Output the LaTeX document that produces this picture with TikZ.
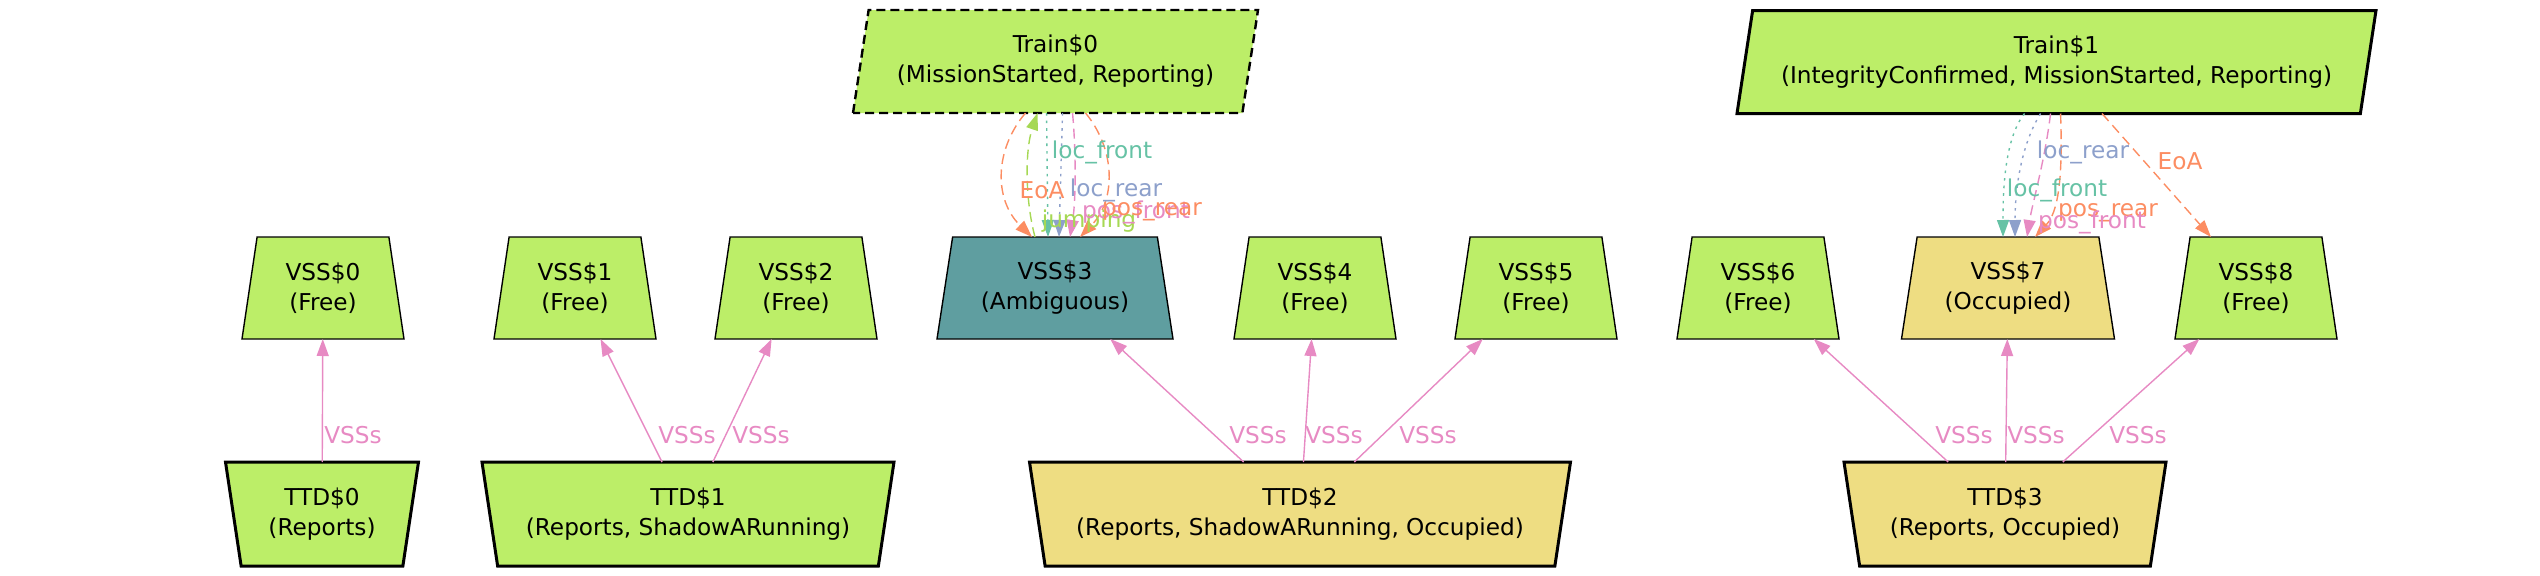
\documentclass[tikz,border=0pt]{standalone}
\usepackage{fontspec}
\setmainfont{DejaVu Sans}
\usetikzlibrary{shapes.geometric,arrows.meta,calc}
\definecolor{fgreen}{HTML}{BCEE68}
\definecolor{fyellow}{HTML}{EEDD82}
\definecolor{fteal}{HTML}{5F9EA0}
\definecolor{cteal}{HTML}{66C2A5}
\definecolor{corange}{HTML}{FC8D62}
\definecolor{cblue}{HTML}{8DA0CB}
\definecolor{cpink}{HTML}{E78AC3}
\definecolor{cgreen}{HTML}{A6D854}
\begin{document}
\begin{tikzpicture}[x=0.5pt,y=-0.5pt,
  every node/.style={font=\fontsize{11.6}{15}\selectfont, inner sep=0pt, outer sep=0pt},
  vssbox/.style={draw=black, line width=0.7pt, trapezium, trapezium stretches body,
    trapezium left angle=73.4, trapezium right angle=73.4, minimum height=51pt, align=center},
  ttdbox/.style={draw=black, line width=1.5pt, trapezium, trapezium stretches body,
    trapezium left angle=106.6, trapezium right angle=106.6, minimum height=52pt, align=center},
  trainbox/.style={draw=black, trapezium, trapezium stretches body, fill=fgreen,
    trapezium left angle=73.4, trapezium right angle=106.6, minimum height=51.5pt, align=center},
  edgebase/.style={line width=0.7pt, -{Triangle[length=8.5pt,width=6pt]}},
  vssedge/.style={edgebase, draw=cpink},
  vsslbl/.style={text=cpink},
  dashedge/.style={edgebase, dash pattern=on 5pt off 2.8pt},
  dotedge/.style={edgebase, dash pattern=on 1.3pt off 2.5pt},
  tealedge/.style={dotedge, draw=cteal},
  blueedge/.style={dotedge, draw=cblue},
  pinkedge/.style={dashedge, draw=cpink},
  orangeedge/.style={dashedge, draw=corange},
  greenedge/.style={dashedge, draw=cgreen},
]
\useasboundingbox (0,0) rectangle (2540,575);

% Train nodes
\node[trainbox, line width=1.2pt, dash pattern=on 4.5pt off 2.5pt, minimum width=202.5pt] (train0) at (1055.5,61.5)
  {Train\$0\\(MissionStarted, Reporting)};
\node[trainbox, line width=1.5pt, minimum width=319.5pt] (train1) at (2056.5,62)
  {Train\$1\\(IntegrityConfirmed, MissionStarted, Reporting)};

% VSS nodes
\node[vssbox, fill=fgreen, minimum width=81pt] (vss0) at (323,288) {VSS\$0\\(Free)};
\node[vssbox, fill=fgreen, minimum width=81pt] (vss1) at (575,288) {VSS\$1\\(Free)};
\node[vssbox, fill=fgreen, minimum width=81pt] (vss2) at (796,288) {VSS\$2\\(Free)};
\node[vssbox, fill=fteal, minimum width=118pt] (vss3) at (1055,288) {VSS\$3\\(Ambiguous)};
\node[vssbox, fill=fgreen, minimum width=81pt] (vss4) at (1315,288) {VSS\$4\\(Free)};
\node[vssbox, fill=fgreen, minimum width=81pt] (vss5) at (1536,288) {VSS\$5\\(Free)};
\node[vssbox, fill=fgreen, minimum width=81pt] (vss6) at (1758,288) {VSS\$6\\(Free)};
\node[vssbox, fill=fyellow, minimum width=106.5pt] (vss7) at (2008,288) {VSS\$7\\(Occupied)};
\node[vssbox, fill=fgreen, minimum width=81pt] (vss8) at (2256,288) {VSS\$8\\(Free)};

% TTD nodes
\node[ttdbox, fill=fgreen, minimum width=96.5pt] (ttd0) at (322,514) {TTD\$0\\(Reports)};
\node[ttdbox, fill=fgreen, minimum width=206pt] (ttd1) at (688,514) {TTD\$1\\(Reports, ShadowARunning)};
\node[ttdbox, fill=fyellow, minimum width=270.5pt] (ttd2) at (1300,514) {TTD\$2\\(Reports, ShadowARunning, Occupied)};
\node[ttdbox, fill=fyellow, minimum width=161pt] (ttd3) at (2005,514) {TTD\$3\\(Reports, Occupied)};

% VSSs edges
\draw[vssedge] (ttd0) -- (vss0) node[vsslbl] at (353,435) {VSSs};
\draw[vssedge] (ttd1) -- (vss1) node[vsslbl] at (687,435) {VSSs};
\draw[vssedge] (ttd1) -- (vss2) node[vsslbl] at (761,435) {VSSs};
\draw[vssedge] (ttd2) -- (vss3) node[vsslbl] at (1258,435) {VSSs};
\draw[vssedge] (ttd2) -- (vss4) node[vsslbl] at (1334,435) {VSSs};
\draw[vssedge] (ttd2) -- (vss5) node[vsslbl] at (1428,435) {VSSs};
\draw[vssedge] (ttd3) -- (vss6) node[vsslbl] at (1964,435) {VSSs};
\draw[vssedge] (ttd3) -- (vss7) node[vsslbl] at (2036,435) {VSSs};
\draw[vssedge] (ttd3) -- (vss8) node[vsslbl] at (2138,435) {VSSs};

% Train0 <-> VSS3
\draw[orangeedge] ([shift={(-30,0)}]train0.south) .. controls (994,150) and (994,200) .. ([shift={(-23,0)}]vss3.north);
\draw[greenedge] ([shift={(-20,0)}]vss3.north) .. controls (1025,200) and (1025,150) .. ([shift={(-18,0)}]train0.south);
\draw[tealedge] ([shift={(-9,0)}]train0.south) -- ([shift={(-7,0)}]vss3.north);
\draw[blueedge] ([shift={(7,0)}]train0.south) -- ([shift={(4,0)}]vss3.north);
\draw[pinkedge] ([shift={(17,0)}]train0.south) .. controls (1076,150) and (1076,200) .. ([shift={(15,0)}]vss3.north);
\draw[orangeedge] ([shift={(30,0)}]train0.south) .. controls (1116,150) and (1116,200) .. ([shift={(25,0)}]vss3.north);
\node[text=cteal] (l0lf) at (1102,152) {loc\_front};
\node[text=corange] (l0eoa) at (1042,190) {EoA};
\node[text=cblue] (l0lr) at (1116,190) {loc\_rear};
\node[text=cgreen] (l0jmp) at (1089,221) {jumping};
\node[text=cpink] (l0pf) at (1136,212) {pos\_front};
\node[text=corange] (l0pr) at (1152,212) {pos\_rear};

% Train1 -> VSS7 / VSS8
\draw[tealedge] ([shift={(-32,0)}]train1.south) .. controls (2003,140) and (2003,200) .. ([shift={(-5,0)}]vss7.north);
\draw[blueedge] ([shift={(-16,0)}]train1.south) .. controls (2018,150) and (2015,200) .. ([shift={(7,0)}]vss7.north);
\draw[pinkedge] ([shift={(-6,0)}]train1.south) .. controls (2045,160) and (2032,205) .. ([shift={(19,0)}]vss7.north);
\draw[orangeedge] ([shift={(4,0)}]train1.south) .. controls (2063,180) and (2058,212) .. ([shift={(27,0)}]vss7.north);
\draw[orangeedge] (train1) -- (vss8);
\node[text=cblue] (l1lr) at (2083,152) {loc\_rear};
\node[text=corange] (l1eoa) at (2180,161) {EoA};
\node[text=cteal] (l1lf) at (2057,190) {loc\_front};
\node[text=corange] (l1pr) at (2108,213) {pos\_rear};
\node[text=cpink] (l1pf) at (2092,222) {pos\_front};
\end{tikzpicture}
\end{document}
